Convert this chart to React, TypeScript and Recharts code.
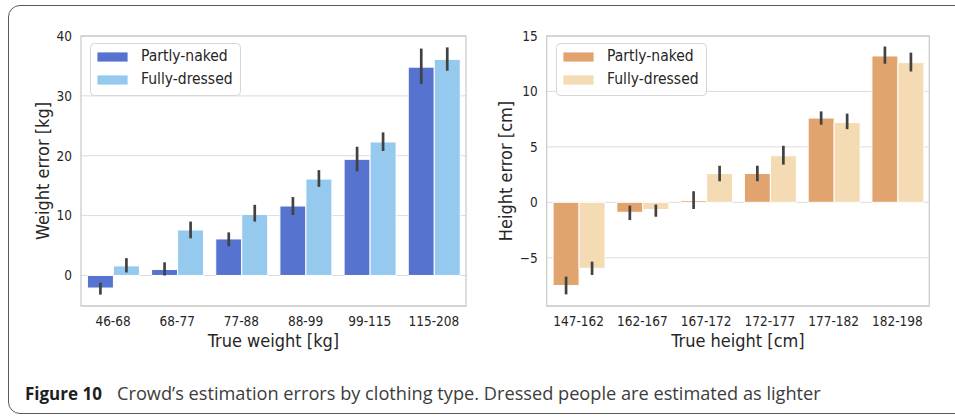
import { Bar, BarChart, CartesianGrid, ErrorBar, Legend, ReferenceArea, XAxis, YAxis } from 'recharts';

// weight panel
const weightBins = ['46-68', '68-77', '77-88', '88-99', '99-115', '115-208'];
const weightNaked = [-2.1, 1.0, 6.1, 11.6, 19.4, 34.8];
const weightNakedCI = [[-3.2, -1.2], [0, 2.2], [4.9, 7.2], [10.1, 13.1], [17.4, 21.5], [32.0, 37.9]];
const weightDressed = [1.6, 7.6, 10.2, 16.1, 22.3, 36.1];
const weightDressedCI = [[0.5, 2.9], [6.2, 9.0], [9.0, 11.8], [14.8, 17.6], [20.8, 23.9], [34.2, 38.1]];
const weightTicks = [0, 10, 20, 30, 40];

// height panel
const heightBins = ['147-162', '162-167', '167-172', '172-177', '177-182', '182-198'];
const heightNaked = [-7.5, -0.9, 0.15, 2.6, 7.6, 13.2];
const heightNakedCI = [[-8.3, -6.7], [-1.6, -0.3], [-0.6, 1.0], [1.9, 3.3], [7.0, 8.2], [12.5, 14.05]];
const heightDressed = [-5.95, -0.65, 2.6, 4.2, 7.2, 12.6];
const heightDressedCI = [[-6.55, -5.35], [-1.3, -0.2], [1.9, 3.3], [3.4, 5.1], [6.6, 8.0], [11.8, 13.5]];
const heightTicks = [-5, 0, 5, 10, 15];

const seriesNames = ['Partly-naked', 'Fully-dressed'];

const FONT = '"DejaVu Sans Condensed", "DejaVu Sans", sans-serif';
const INK = '#262626';
const EDGE = '#cccccc';
const ERR = '#424242';

type CI = number[][];

function toRows(bins: string[], naked: number[], nakedCI: CI, dressed: number[], dressedCI: CI) {
  return bins.map((bin, i) => ({
    bin,
    naked: naked[i],
    nakedErr: [naked[i] - nakedCI[i][0], nakedCI[i][1] - naked[i]],
    dressed: dressed[i],
    dressedErr: [dressed[i] - dressedCI[i][0], dressedCI[i][1] - dressed[i]],
  }));
}

// framed legend, kept in series order
function BoxLegend(props: any) {
  const items = [...(props.payload || [])].sort(
    (a: any, b: any) => seriesNames.indexOf(a.value) - seriesNames.indexOf(b.value)
  );
  return (
    <svg width={151} height={53} style={{ display: 'block' }}>
      <rect x={0.5} y={0.5} width={150} height={52} rx={4} fill="rgba(255,255,255,0.8)" stroke="#d6d6d6" />
      {items.map((it: any, i: number) => (
        <g key={it.value}>
          <rect x={7} y={9 + i * 23} width={31} height={10} fill={it.color} stroke="#fff" strokeWidth={0.8} />
          <text x={51} y={18 + i * 23} fontFamily={FONT} fontSize={15.5} fill={INK}>
            {it.value}
          </text>
        </g>
      ))}
    </svg>
  );
}

type PanelProps = {
  rows: ReturnType<typeof toRows>;
  left: number;
  width: number;
  plotLeft: number;
  plotRight: number;
  domain: [number, number];
  ticks: number[];
  colors: [string, string];
  xTitle: string;
  yTitle: string;
  yTitleX: number;
  legendLeft: number;
};

function Panel({ rows, left, width, plotLeft, plotRight, domain, ticks, colors, xTitle, yTitle, yTitleX, legendLeft }: PanelProps) {
  const yAxisWidth = 60;
  return (
    <div style={{ position: 'absolute', left, top: 0 }}>
      <BarChart
        width={width}
        height={360}
        data={rows}
        margin={{ top: 36, right: width - plotRight, bottom: 9, left: plotLeft - yAxisWidth }}
        barCategoryGap="10%"
        barGap={0}
      >
        <CartesianGrid vertical={false} stroke="#dcdcdc" strokeWidth={1} />
        <ReferenceArea y1={domain[0]} y2={domain[1]} fill="none" stroke={EDGE} strokeWidth={1.3} ifOverflow="visible" />
        <XAxis
          dataKey="bin"
          axisLine={false}
          tickLine={false}
          tickSize={0}
          tickMargin={10}
          height={45}
          tick={{ fontFamily: FONT, fontSize: 13.5, fill: INK }}
          label={{ value: xTitle, position: 'insideBottom', offset: 4, style: { fontFamily: FONT, fontSize: 18, fill: INK } }}
        />
        <YAxis
          width={yAxisWidth}
          domain={domain}
          ticks={ticks}
          allowDataOverflow
          axisLine={false}
          tickLine={false}
          tickSize={0}
          tickMargin={9}
          tickFormatter={(v: number) => String(v).replace('-', '\u2212')}
          tick={{ fontFamily: FONT, fontSize: 13.5, fill: INK }}
          label={{
            value: yTitle,
            angle: -90,
            position: 'insideLeft',
            offset: yTitleX - (plotLeft - yAxisWidth),
            style: { textAnchor: 'middle', fontFamily: FONT, fontSize: 18, fill: INK },
          }}
        />
        <Legend
          content={<BoxLegend />}
          layout="horizontal"
          verticalAlign="middle"
          wrapperStyle={{ left: legendLeft, top: 43, width: 151, height: 53 }}
        />
        <Bar dataKey="naked" name={seriesNames[0]} fill={colors[0]} stroke="#fff" strokeWidth={1} isAnimationActive={false}>
          <ErrorBar dataKey="nakedErr" direction="y" width={0} stroke={ERR} strokeWidth={2.7} isAnimationActive={false} />
        </Bar>
        <Bar dataKey="dressed" name={seriesNames[1]} fill={colors[1]} stroke="#fff" strokeWidth={1} isAnimationActive={false}>
          <ErrorBar dataKey="dressedErr" direction="y" width={0} stroke={ERR} strokeWidth={2.7} isAnimationActive={false} />
        </Bar>
      </BarChart>
    </div>
  );
}

export default function App() {
  return (
    <div style={{ position: 'absolute', left: 0, top: 0, width: 955, height: 418, overflow: 'hidden', background: '#fff' }}>
      <div
        style={{
          position: 'absolute',
          left: 8,
          top: 5,
          width: 1000,
          height: 409,
          boxSizing: 'border-box',
          border: '1.3px solid #5a5a5a',
          borderRadius: 12,
        }}
      />
      <Panel
        rows={toRows(weightBins, weightNaked, weightNakedCI, weightDressed, weightDressedCI)}
        left={0}
        width={480}
        plotLeft={81}
        plotRight={466}
        domain={[-5.1, 40]}
        ticks={weightTicks}
        colors={['#5573cf', '#95caee']}
        xTitle="True weight [kg]"
        yTitle="Weight error [kg]"
        yTitleX={43}
        legendLeft={90}
      />
      <Panel
        rows={toRows(heightBins, heightNaked, heightNakedCI, heightDressed, heightDressedCI)}
        left={480}
        width={475}
        plotLeft={66.7}
        plotRight={449.3}
        domain={[-9.35, 15]}
        ticks={heightTicks}
        colors={['#e1a46f', '#f5dbb4']}
        xTitle="True height [cm]"
        yTitle="Height error [cm]"
        yTitleX={26}
        legendLeft={75.7}
      />
      <svg width={955} height={48} style={{ position: 'absolute', left: 0, top: 370 }}>
        <text x={25} y={30} fontFamily='"Open Sans", "Noto Sans", sans-serif' fill="#3c3c3c">
          <tspan fontSize={17} fontWeight={700} fill="#1e1e1e">Figure 10</tspan>
          <tspan x={117} fontSize={18.2}>Crowd’s estimation errors by clothing type. Dressed people are estimated as lighter</tspan>
        </text>
      </svg>
    </div>
  );
}
